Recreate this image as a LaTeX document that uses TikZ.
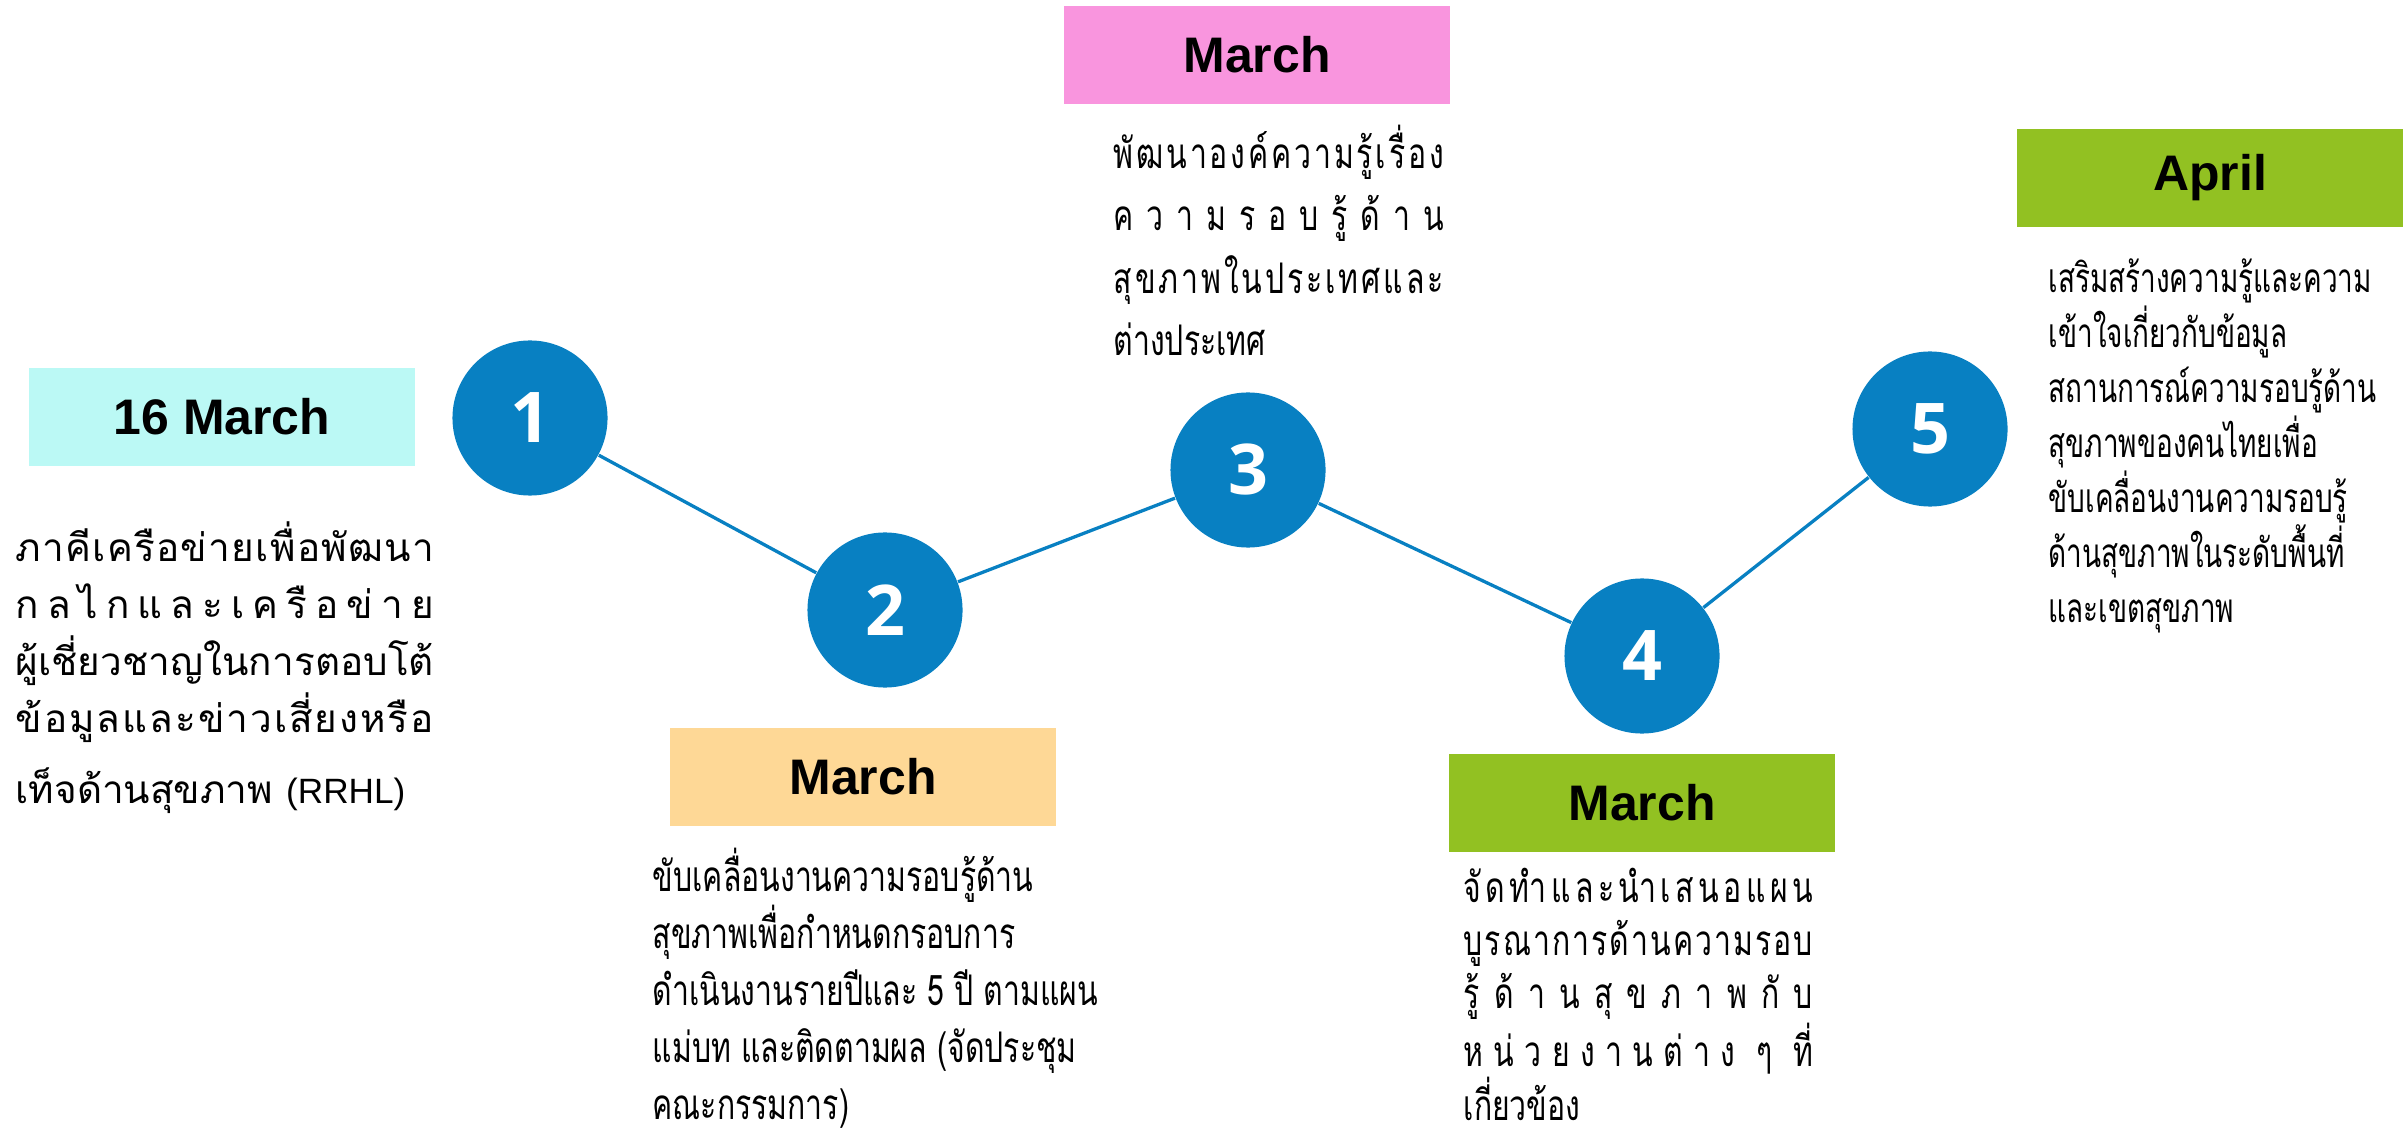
\documentclass[tikz,border=0pt]{standalone}
\usepackage{fontspec}
\setmainfont{Liberation Sans}
\newfontfamily\thaiwide[Script=Thai]{Loma}
\newfontfamily\thaifont[Script=Thai,FakeStretch=0.715]{Loma}
\newfontfamily\thainarrow[Script=Thai,FakeStretch=0.69]{Loma}
\newfontfamily\numfont{Open Sans}

\definecolor{stepblue}{RGB}{8,128,194}
\definecolor{boxcyan}{RGB}{187,249,245}
\definecolor{boxorange}{RGB}{254,216,150}
\definecolor{boxpink}{RGB}{249,149,222}
\definecolor{boxgreen}{RGB}{146,193,34}

% one line of Thai spread over the whole width
\newcommand\spreadline[2]{\makebox[#1][s]{\spaceskip=0pt plus 1fil\relax #2}}

\tikzset{
  stepcircle/.style={circle,fill=stepblue,minimum size=1.55cm,inner sep=0pt,
    text=white,font=\numfont\bfseries\fontsize{19.9}{22}\selectfont},
  monthbox/.style={fill=#1,minimum width=3.86cm,minimum height=0.97cm,inner sep=0pt,
    font=\bfseries\fontsize{14.2}{17}\selectfont},
  thaitext/.style={anchor=base west,align=left,inner sep=0pt,
    font=\thaifont\fontsize{12}{#1}\selectfont},
  link/.style={draw=stepblue,line width=0.033cm}
}

\begin{document}
\begin{tikzpicture}[x=0.01cm,y=-0.01cm]
\useasboundingbox (0,0) rectangle (2407,1134);

\node[stepcircle] (c1) at (530,418) {1};
\node[stepcircle] (c2) at (885,610) {2};
\node[stepcircle] (c3) at (1248,470) {3};
\node[stepcircle] (c4) at (1642,656) {4};
\node[stepcircle] (c5) at (1930,429) {5};
\draw[link] (c1) -- (c2) -- (c3) -- (c4) -- (c5);

\node[monthbox=boxcyan] (m1) at (222,417) {16 March};
\node[monthbox=boxorange] (m2) at (863,777) {March};
\node[monthbox=boxpink] (m3) at (1257,55) {March};
\node[monthbox=boxgreen] (m4) at (1642,803) {March};
\node[monthbox=boxgreen] (m5) at (2210,178) {April};

% text blocks, placed at the baseline of their last line
\node[thaitext=16.2pt,font=\thaiwide\fontsize{11}{16.2}\selectfont] (t1) at (15,803) {%
  \spreadline{4.18cm}{ภ า คี เ ค รื อ ข่ า ย เ พื่ อ พั ฒ น า}\\
  \spreadline{4.18cm}{ก ล ไ ก แ ล ะ เ ค รื อ ข่ า ย}\\
  \spreadline{4.18cm}{ผู้ เ ชี่ ย ว ช า ญ ใ น ก า ร ต อ บ โ ต้}\\
  \spreadline{4.18cm}{ข้ อ มู ล แ ล ะ ข่ า ว เ สี่ ย ง ห รื อ}\\[0.14cm]
  เท็จด้านสุขภาพ {\rmfamily\fontsize{10}{12}\selectfont (RRHL)}};

\node[thaitext=16.2pt] (t2) at (652,1119) {%
  ขับเคลื่อนงานความรอบรู้ด้าน\\
  สุขภาพเพื่อกำหนดกรอบการ\\
  ดำเนินงานรายปีและ 5 ปี ตามแผน\\
  แม่บท และติดตามผล (จัดประชุม\\
  คณะกรรมการ)};

\node[thaitext=17.8pt] (t3) at (1113,356) {%
  \spreadline{3.30cm}{พั ฒ น า อ ง ค์ ค ว า ม รู้ เ รื่ อ ง}\\
  \spreadline{3.30cm}{ค ว า ม ร อ บ รู้ ด้ า น}\\
  \spreadline{3.30cm}{สุ ข ภ า พ ใ น ป ร ะ เ ท ศ แ ล ะ}\\
  ต่างประเทศ};

\node[thaitext=15.1pt] (t4) at (1463,1120) {%
  \spreadline{3.49cm}{จั ด ทำ แ ล ะ นำ เ ส น อ แ ผ น}\\
  \spreadline{3.49cm}{บู ร ณ า ก า ร ด้ า น ค ว า ม ร อ บ}\\
  \spreadline{3.49cm}{รู้ ด้ า น สุ ข ภ า พ กั บ}\\
  \spreadline{3.49cm}{ห น่ ว ย ง า น ต่ า ง \hfil ๆ \hfil ที่}\\
  เกี่ยวข้อง};

\node[thaitext=15.6pt,font=\thainarrow\fontsize{11.5}{15.6}\selectfont] (t5) at (2048,622) {%
  เสริมสร้างความรู้และความ\\
  เข้าใจเกี่ยวกับข้อมูล\\
  สถานการณ์ความรอบรู้ด้าน\\
  สุขภาพของคนไทยเพื่อ\\
  ขับเคลื่อนงานความรอบรู้\\
  ด้านสุขภาพในระดับพื้นที่\\
  และเขตสุขภาพ};
\end{tikzpicture}
\end{document}
